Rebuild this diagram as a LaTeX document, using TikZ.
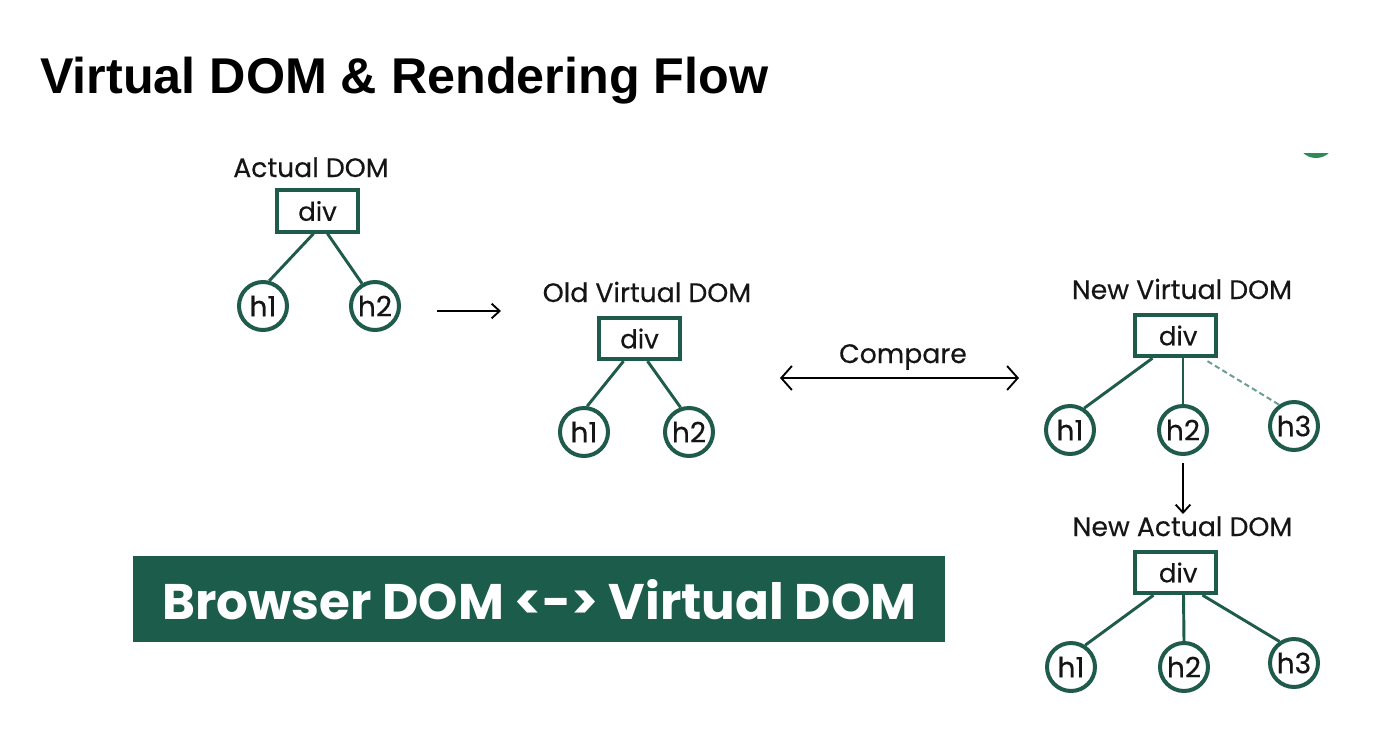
\documentclass[tikz,border=0pt]{standalone}
\usepackage{fontspec}
\setmainfont{Poppins}[FakeBold=0.35]
\newfontfamily\medfont{Poppins}[FakeBold=0.35]
\newfontfamily\titlefont{Liberation Sans}
\usetikzlibrary{arrows.meta,calc}
\definecolor{dg}{HTML}{1E5B4B}
\definecolor{bannerc}{HTML}{1C5C4A}
\definecolor{dashc}{HTML}{6F9D8F}
\definecolor{logoc}{HTML}{2E8B57}
\definecolor{txt}{HTML}{151515}
\begin{document}
\begin{tikzpicture}[x=0.75pt,y=-0.75pt,
  divbox/.style={draw=dg,line width=3pt,minimum width=61pt,minimum height=31pt,inner sep=0pt,text=txt,font=\medfont\fontsize{19.5}{20}\selectfont},
  hnode/.style={draw=dg,line width=3pt,circle,minimum size=36pt,inner sep=0pt,text=txt,font=\medfont\fontsize{21}{22}\selectfont},
  edge/.style={draw=dg,line width=2.2pt},
  dedge/.style={draw=dashc,line width=1.5pt,dash pattern=on 4pt off 2.5pt},
  lbl/.style={anchor=base,inner sep=0pt,font=\medfont\fontsize{20}{22}\selectfont,text=txt},
  arr/.style={draw=black,line width=1.4pt,-{Straight Barb[length=6pt,width=11pt,line width=1.4pt]}},
  darr/.style={draw=black,line width=1.4pt,{Straight Barb[length=8pt,width=18pt,line width=1.4pt]}-{Straight Barb[length=8pt,width=18pt,line width=1.4pt]}},
]
\useasboundingbox (0,0) rectangle (1393,747);
\fill[white] (0,0) rectangle (1393,747);

% title
\node[anchor=base west,inner sep=0pt,font=\titlefont\bfseries\fontsize{37.7}{40}\selectfont] (title) at (40,93) {Virtual DOM \& Rendering Flow};

% logo sliver
\begin{scope}
  \clip (1290,153) rectangle (1340,162);
  \fill[logoc] (1316,139) circle (19);
\end{scope}

% Actual DOM
\node[lbl] (adl) at (311,177) {Actual DOM};
\node[divbox] (ad) at (317.5,211) {div};
\node[hnode] (adh1) at (263,306) {h1};
\node[hnode] (adh2) at (375,306) {h2};
\draw[edge] ($(ad.south)+(-4,0)$) -- (adh1.76);
\draw[edge] ($(ad.south)+(10,0)$) -- (adh2.120);

\coordinate (a1s) at (437,311);
\coordinate (a1e) at (501,311);
\draw[arr] (a1s) -- (a1e);

% Old Virtual DOM
\node[lbl] (ovl) at (647,302) {Old Virtual DOM};
\node[divbox] (ov) at (639.5,338.5) {div};
\node[hnode] (ovh1) at (584,432) {h1};
\node[hnode] (ovh2) at (689,432) {h2};
\draw[edge] ($(ov.south)+(-16,0)$) -- (ovh1.83);
\draw[edge] ($(ov.south)+(8,0)$) -- (ovh2.109);

% Compare
\node[lbl] (cmp) at (903,363) {Compare};
\coordinate (c1) at (780,378);
\coordinate (c2) at (1019,378);
\draw[darr] (c1) -- (c2);

% New Virtual DOM
\node[lbl] (nvl) at (1182,299) {New Virtual DOM};
\node[divbox] (nv) at (1175.5,335.5) {\hspace{4pt}div};
\node[hnode] (nvh1) at (1070,430) {h1};
\node[hnode] (nvh2) at (1183,430) {h2};
\node[hnode] (nvh3) at (1294,426) {h3};
\draw[edge] ($(nv.south)+(-23,0)$) -- (nvh1.57);
\draw[edge] ($(nv.south)+(7.5,0)$) -- (nvh2.90);
\draw[dedge] ($(nv.south)+(32,3)$) -- (nvh3.125);

\coordinate (d1) at (1183,463);
\coordinate (d2) at (1183,514);
\draw[arr] (d1) -- (d2);

% New Actual DOM
\node[lbl] (nal) at (1182.5,536) {New Actual DOM};
\node[divbox] (na) at (1175.5,572.5) {\hspace{4pt}div};
\node[hnode] (nah1) at (1071,667) {h1};
\node[hnode] (nah2) at (1184,667) {h2};
\node[hnode] (nah3) at (1294,663) {h3};
\draw[edge] ($(na.south)+(-22,0)$) -- (nah1.57);
\draw[edge] ($(na.south)+(8,0)$) -- (nah2.90);
\draw[edge] ($(na.south)+(27,0)$) -- (nah3.124);

% banner
\node[fill=bannerc,anchor=north west,minimum width=609pt,minimum height=64.5pt,inner sep=0pt,text=white,font=\fontspec{Poppins}\bfseries\fontsize{37.5}{40}\selectfont] (banner) at (133,556) {Browser DOM <-> Virtual DOM};
\end{tikzpicture}
\end{document}
